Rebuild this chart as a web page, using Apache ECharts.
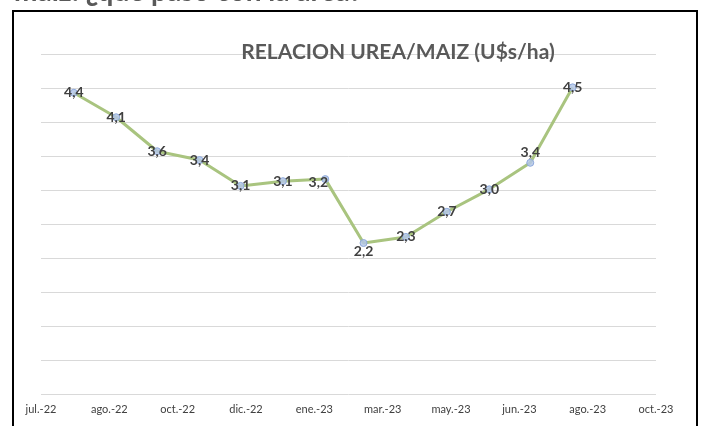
<!DOCTYPE html>
<html>
<head>
<meta charset="utf-8">
<script src="https://cdn.jsdelivr.net/npm/echarts@6/dist/echarts.min.js"></script>
<style>
html,body{margin:0;padding:0;background:#fff;}
#c{width:702px;height:426px;}
</style>
</head>
<body>
<div id="c"></div>
<script>
// Data
var axisStartDate = '2022-07-08';
var pointDates = ['2022-08-01','2022-09-01','2022-10-01','2022-11-01','2022-12-01','2023-01-01','2023-02-01','2023-03-01','2023-04-01','2023-05-01','2023-06-01','2023-07-01','2023-08-01'];
var ratioValues = [4.43,4.07,3.57,3.44,3.06,3.13,3.16,2.22,2.31,2.68,3.01,3.40,4.51];
var xTickLabels = ['jul.-22','ago.-22','oct.-22','dic.-22','ene.-23','mar.-23','may.-23','jun.-23','ago.-23','oct.-23'];
var tickStepDays = 50;

var dayMs = 86400000;
function toDay(s){ var p=s.split('-'); return Math.round((Date.UTC(+p[0],p[1]-1,+p[2]) - Date.UTC(2022,6,8))/dayMs); }
var seriesData = pointDates.map(function(d,i){ return [toDay(d), ratioValues[i]]; });

var labelTweaks = {6:[-7,3], 7:[0,8], 11:[0,-10]};
seriesData = seriesData.map(function(p,i){
  var o = {value:p};
  if (labelTweaks[i]) o.label = {offset: labelTweaks[i]};
  return o;
});

var chart = echarts.init(document.getElementById('c'), null, {renderer:'canvas'});
var font = 'Lato, "Open Sans", sans-serif';
chart.setOption({
  animation:false,
  backgroundColor:'#fff',
  graphic:[
    {type:'text', left:14, top:-22, style:{text:'maiz: ¿qué pasó con la área?', font:'bold 28px '+font, fill:'#595959'}},
    {type:'rect', shape:{x:13, y:11, width:684, height:440}, style:{fill:'#fff', stroke:'#000', lineWidth:2}, z:-1}
  ],
  title:{
    text:'RELACION UREA/MAIZ (U$s/ha)',
    left:393, textAlign:'center', top:37,
    textStyle:{fontFamily:font, fontWeight:'bold', fontSize:21, color:'#595959'}
  },
  grid:{left:41, right:46, top:54, bottom:32},
  xAxis:{
    type:'value', min:0, max:tickStepDays*(xTickLabels.length-1), interval:tickStepDays,
    axisLine:{show:false}, axisTick:{show:false}, splitLine:{show:false},
    axisLabel:{
      margin:10, color:'#404040', fontSize:11, fontFamily:font,
      formatter:function(v){ var i=Math.round(v/tickStepDays); return xTickLabels[i]||''; }
    }
  },
  yAxis:{
    type:'value', min:0, max:5, interval:0.5,
    axisLine:{show:false}, axisTick:{show:false}, axisLabel:{show:false},
    splitLine:{lineStyle:{color:'#d9d9d9', width:1}}
  },
  series:[{
    type:'line',
    data:seriesData,
    symbol:'circle', symbolSize:7,
    lineStyle:{color:'#a9c47f', width:3},
    itemStyle:{color:'rgba(180,199,231,0.85)', borderColor:'#8faadc', borderWidth:1},
    label:{
      show:true, position:'inside', fontFamily:font, fontWeight:'bold', fontSize:14, color:'#404040',
      formatter:function(p){ return p.value[1].toFixed(1).replace('.', ','); }
    },
    z:3
  }]
});
</script>
</body>
</html>
